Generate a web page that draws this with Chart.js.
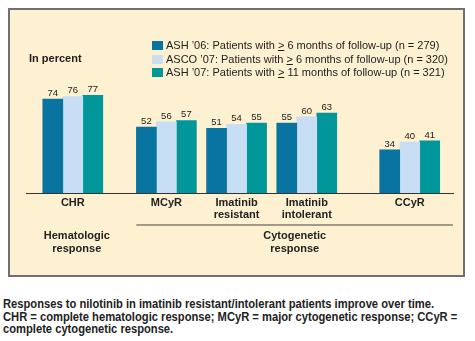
<!DOCTYPE html>
<html>
<head>
<meta charset="utf-8">
<script src="https://cdn.jsdelivr.net/npm/chart.js@4/dist/chart.umd.min.js"></script>
<style>
  html, body { margin: 0; padding: 0; background: #ffffff; width: 475px; height: 341px; overflow: hidden; }
  #panel { position: absolute; left: 8px; top: 8px; width: 453px; height: 265px; background: #fef1d2; border: 2px solid #707070; }
  #c { position: absolute; left: 0; top: 0; }
  #ytitle { position: absolute; left: 29px; top: 52px; font: bold 11px "Liberation Sans", Arial, sans-serif; color: #222; }
  #legend { position: absolute; left: 152px; top: 39px; font: 11px "Liberation Sans", Arial, sans-serif; color: #222; }
  #legend .row { height: 13.5px; line-height: 13.5px; white-space: nowrap; display: flex; align-items: center; }
  #legend .sw { width: 11px; height: 9px; margin-right: 3px; flex: none; }
  #legend u { text-decoration: underline; }
  #caption { position: absolute; left: 3px; top: 298px; font: bold 12.5px "Liberation Sans", Arial, sans-serif; color: #222; line-height: 12.6px; white-space: nowrap; transform-origin: 0 0; }
</style>
</head>
<body>
<div id="panel"></div>
<canvas id="c" width="475" height="280"></canvas>
<div id="ytitle">In percent</div>
<div id="legend"></div>
<div id="caption"><span id="cap1">Responses to nilotinib in imatinib resistant/intolerant patients improve over time.</span><br>CHR = complete hematologic response; MCyR = major cytogenetic response; CCyR =<br>complete cytogenetic response.</div>
<script>
// ---- data ----
const categories = [['CHR'], ['MCyR'], ['Imatinib', 'resistant'], ['Imatinib', 'intolerant'], ['CCyR']];
const seriesNames = [
  'ASH ’06: Patients with ≥ 6 months of follow-up (n = 279)',
  'ASCO ’07: Patients with ≥ 6 months of follow-up (n = 320)',
  'ASH ’07: Patients with ≥ 11 months of follow-up (n = 321)'
];
const ash06 = [74, 52, 51, 55, 34];
const asco07 = [76, 56, 54, 60, 40];
const ash07 = [77, 57, 55, 63, 41];
const groupLabels = [['Hematologic', 'response'], ['Cytogenetic', 'response']];
const groupMembers = [[0], [1, 2, 3, 4]];

// ---- layout / style ----
const slots = [0, 4, 7, 10, 14.4];   // horizontal placement of category groups on the x scale
const colors = ['#0a74a0', '#c8def4', '#00969a'];
const seriesValues = [ash06, asco07, ash07];

const datasets = seriesValues.map((vals, s) => ({
  label: seriesNames[s],
  data: vals.map((v, i) => ({ x: slots[i], y: v })),
  backgroundColor: colors[s],
  borderWidth: 0,
  barThickness: 20
}));

const FONT = '"Liberation Sans", Arial, sans-serif';

const annotate = {
  id: 'annotate',
  afterDatasetsDraw(chart) {
    const ctx = chart.ctx;
    ctx.save();
    ctx.font = '9.5px ' + FONT;
    ctx.fillStyle = '#222';
    ctx.textAlign = 'center';
    ctx.textBaseline = 'bottom';
    chart.data.datasets.forEach((ds, di) => {
      const meta = chart.getDatasetMeta(di);
      meta.data.forEach((el, i) => {
        ctx.fillText(String(seriesValues[di][i]), el.x, el.y - 1);
      });
    });
    ctx.restore();
  },
  afterDraw(chart) {
    const ctx = chart.ctx;
    const xs = chart.scales.x;
    const area = chart.chartArea;
    ctx.save();
    ctx.font = 'bold 11px ' + FONT;
    ctx.fillStyle = '#222';
    ctx.textAlign = 'center';
    ctx.textBaseline = 'middle';
    groupMembers.forEach((members, g) => {
      const first = xs.getPixelForValue(slots[members[0]]);
      let cx;
      if (members.length > 1) {
        const x0 = first - 30, x1 = area.right;
        ctx.strokeStyle = '#444';
        ctx.lineWidth = 1.2;
        ctx.beginPath();
        ctx.moveTo(x0, area.bottom + 32);
        ctx.lineTo(x1, area.bottom + 32);
        ctx.stroke();
        cx = (x0 + x1) / 2;
      } else {
        cx = first + 4;
      }
      groupLabels[g].forEach((line, li) => {
        ctx.fillText(line, cx, area.bottom + 42.5 + li * 13);
      });
    });
    ctx.restore();
  }
};

new Chart(document.getElementById('c'), {
  type: 'bar',
  data: { datasets },
  options: {
    responsive: false,
    animation: false,
    devicePixelRatio: 1,
    layout: { padding: { top: 66, left: 26, right: 22, bottom: 0 } },
    plugins: { legend: { display: false }, tooltip: { enabled: false } },
    scales: {
      x: {
        type: 'linear',
        min: -2,
        max: 16.25,
        offset: false,
        grid: { display: false, drawTicks: false },
        border: { display: true, color: '#333', width: 1 },
        afterBuildTicks: (axis) => { axis.ticks = slots.map(v => ({ value: v })); },
        afterFit: (axis) => { axis.height = 87; },
        ticks: {
          autoSkip: false,
          maxRotation: 0,
          minRotation: 0,
          padding: 4,
          color: '#222',
          font: { family: FONT, size: 11, weight: 'bold', lineHeight: 1.1 },
          callback: (value, index) => categories[index]
        }
      },
      y: { display: false, min: 0, max: 100 }
    }
  },
  plugins: [annotate]
});

// HTML legend built from the datasets
const legendEl = document.getElementById('legend');
datasets.forEach(ds => {
  const row = document.createElement('div');
  row.className = 'row';
  const sw = document.createElement('span');
  sw.className = 'sw';
  sw.style.background = ds.backgroundColor;
  row.appendChild(sw);
  const txt = document.createElement('span');
  const parts = ds.label.split('≥');
  txt.appendChild(document.createTextNode(parts[0]));
  for (let k = 1; k < parts.length; k++) {
    const u = document.createElement('u');
    u.textContent = '>';
    txt.appendChild(u);
    txt.appendChild(document.createTextNode(parts[k]));
  }
  row.appendChild(txt);
  legendEl.appendChild(row);
});

// condense the caption to the reference width
const cap = document.getElementById('caption');
const w = document.getElementById('cap1').getBoundingClientRect().width;
if (w > 0) cap.style.transform = 'scaleX(' + (431 / w) + ')';
</script>
</body>
</html>
